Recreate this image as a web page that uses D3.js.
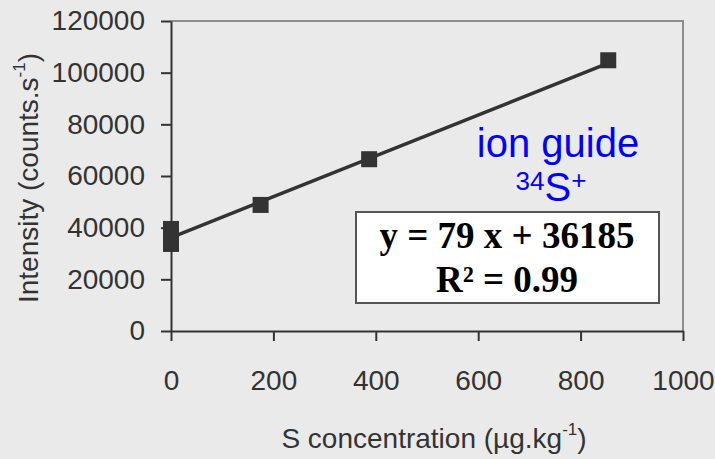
<!DOCTYPE html>
<html>
<head>
<meta charset="utf-8">
<script src="https://cdn.jsdelivr.net/npm/d3@7"></script>
<style>
  body { margin: 0; background: #eaeaea; }
  svg { display: block; }
  .axis text { font-family: "Liberation Sans", Arial, sans-serif; font-size: 28px; fill: #333; }
  .axis path, .axis line { stroke: #333; stroke-width: 2; }
</style>
</head>
<body>
<svg width="715" height="459"></svg>
<script>
// calibration data
const concentrations = [0, 0, 0, 175, 387, 854];
const intensities = [39500, 36500, 33700, 48800, 66500, 104800];
const xTicks = [0, 200, 400, 600, 800, 1000];
const yTicks = [0, 20000, 40000, 60000, 80000, 100000, 120000];
const slope = 79;
const intercept = 36185;
const rSquared = 0.99;

var width = 715, height = 459;
const margin = {top: 21, right: 32, bottom: 128, left: 171};
const innerWidth = width - margin.left - margin.right;
const innerHeight = height - margin.top - margin.bottom;

var svg = d3.select("svg");
svg.append("rect").attr("width", width).attr("height", height).attr("fill", "#eaeaea");

var g = svg.append("g").attr("transform", `translate(${margin.left},${margin.top})`);

var x = d3.scaleLinear().domain([0, 1000]).range([0, innerWidth]);
var y = d3.scaleLinear().domain([0, 120000]).range([innerHeight, 0]);

// top + right frame
g.append("path")
    .attr("d", `M0,${y(120000)}H${x(1000)}V${y(0)}`)
    .attr("fill", "none")
    .attr("stroke", "#8e8e8e")
    .attr("stroke-width", 2);

g.append("g")
    .attr("class", "axis")
    .attr("transform", `translate(0,${innerHeight})`)
    .call(d3.axisBottom(x).tickValues(xTicks).tickSize(10).tickSizeOuter(0).tickPadding(29).tickFormat(d3.format("d")));

g.append("g")
    .attr("class", "axis")
    .call(d3.axisLeft(y).tickValues(yTicks).tickSize(10).tickSizeOuter(0).tickPadding(16).tickFormat(d3.format("d")));

// regression line
var xExt = d3.extent(concentrations);
g.append("line")
    .attr("x1", x(xExt[0])).attr("y1", y(slope * xExt[0] + intercept))
    .attr("x2", x(xExt[1])).attr("y2", y(slope * xExt[1] + intercept))
    .attr("stroke", "#333")
    .attr("stroke-width", 3.5);

g.selectAll("rect.pt")
  .data(concentrations.map((c, i) => [c, intensities[i]]))
  .enter().append("rect")
    .attr("class", "pt")
    .attr("x", d => x(d[0]) - 8)
    .attr("y", d => y(d[1]) - 8)
    .attr("width", 16)
    .attr("height", 16)
    .attr("fill", "#333");

// axis titles
svg.append("text")
    .attr("transform", "translate(38,178) rotate(-90)")
    .attr("text-anchor", "middle")
    .attr("font-family", "Liberation Sans, Arial, sans-serif")
    .attr("font-size", 28)
    .attr("fill", "#333")
    .call(t => {
      t.append("tspan").text("Intensity (counts.s");
      t.append("tspan").attr("font-size", 17).attr("dy", -13).text("-1");
      t.append("tspan").attr("dy", 13).text(")");
    });

svg.append("text")
    .attr("x", 434).attr("y", 448)
    .attr("text-anchor", "middle")
    .attr("font-family", "Liberation Sans, Arial, sans-serif")
    .attr("font-size", 28)
    .attr("fill", "#333")
    .call(t => {
      t.append("tspan").text("S concentration (µg.kg");
      t.append("tspan").attr("font-size", 17).attr("dy", -13).text("-1");
      t.append("tspan").attr("dy", 13).text(")");
    });

// annotation
svg.append("text")
    .attr("x", 558).attr("y", 157)
    .attr("text-anchor", "middle")
    .attr("font-family", "Liberation Sans, Arial, sans-serif")
    .attr("font-size", 40)
    .attr("fill", "#0000ff")
    .text("ion guide");

svg.append("text")
    .attr("x", 551).attr("y", 201)
    .attr("text-anchor", "middle")
    .attr("font-family", "Liberation Sans, Arial, sans-serif")
    .attr("font-size", 40)
    .attr("fill", "#0000ff")
    .call(t => {
      t.append("tspan").attr("font-size", 26).attr("dy", -11).text("34");
      t.append("tspan").attr("dy", 11).text("S");
      t.append("tspan").attr("font-size", 26).attr("dy", -12).text("+");
    });

svg.append("rect")
    .attr("x", 356).attr("y", 212)
    .attr("width", 303).attr("height", 91)
    .attr("fill", "#fff")
    .attr("stroke", "#555")
    .attr("stroke-width", 2);

var eq = svg.append("g")
    .attr("font-family", "Liberation Serif, Times New Roman, serif")
    .attr("font-weight", "bold")
    .attr("font-size", 37)
    .attr("fill", "#000")
    .attr("text-anchor", "middle");

eq.append("text").attr("x", 507).attr("y", 248)
    .text(`y = ${slope} x + ${intercept}`);

eq.append("text").attr("x", 507).attr("y", 292)
    .text(`R\u00b2 = ${rSquared}`);
</script>
</body>
</html>
